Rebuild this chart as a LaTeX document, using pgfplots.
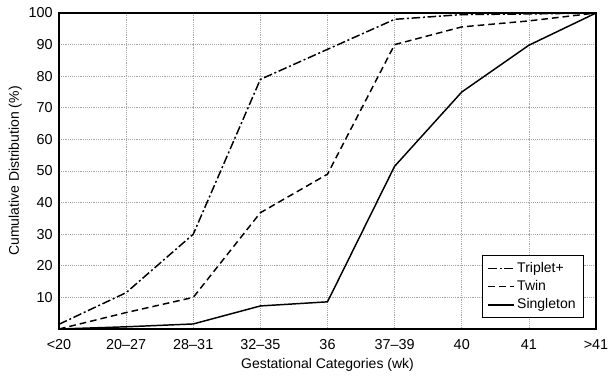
\documentclass[border=0pt]{standalone}
\usepackage{fontspec}
\setmainfont{Liberation Sans}
\usepackage{pgfplots}
\pgfplotsset{compat=1.18}
\begin{document}
\fontsize{10.5}{12.6}\selectfont
\begin{tikzpicture}
\path[use as bounding box] (-44.25pt,-35.25pt) rectangle (417.75pt,246.75pt);
\begin{axis}[
  at={(0,0)}, anchor=south west,
  scale only axis, width=402.75pt, height=237pt,
  xmin=0, xmax=8, ymin=0, ymax=100,
  xtick={0,...,8},
  xticklabels={<20,20--27,28--31,32--35,36,37--39,40,41,>41},
  ytick={10,20,...,100},
  /pgf/number format/assume math mode=true,
  tick label style={font=\fontsize{10.8}{12.6}\selectfont},
  label style={font=\fontsize{10.5}{12.6}\selectfont},
  major tick length=0pt,
  xticklabel style={yshift=-4pt},
  yticklabel style={xshift=-1pt},
  grid=major,
  major grid style={densely dotted, gray!70, line width=0.5pt},
  axis line style={line width=1.5pt},
  xlabel={Gestational Categories (wk)},
  ylabel={Cumulative Distribution (\%)},
  xlabel style={yshift=0.5pt},
  ylabel style={yshift=-2pt},
  legend style={at={(1,0)}, anchor=south east, xshift=-9pt, yshift=8.25pt, draw=black, line width=0.6pt, font=\fontsize{10.5}{12.6}\selectfont, inner xsep=4pt, inner ysep=3pt, row sep=0.5pt},
  legend cell align=left,
  legend image code/.code={\draw[#1] (0pt,0pt) -- (19pt,0pt);},
]
\addplot[black, line width=1.1pt, dash pattern=on 6.5pt off 2pt on 1.5pt off 2pt] coordinates {
 (0,1.5) (1,11.5) (2,30) (3,79) (4,88.5) (5,98) (6,99.5) (7,99.7) (8,100)};
\addlegendentry{Triplet+}
\addplot[black, line width=1.1pt, dash pattern=on 5pt off 3pt] coordinates {
 (0,0) (1,5.2) (2,10) (3,36.8) (4,49) (5,90) (6,95.6) (7,97.5) (8,100)};
\addlegendentry{Twin}
\addplot[black, line width=1.1pt] coordinates {
 (0,0) (1,0.7) (2,1.6) (3,7.3) (4,8.6) (5,51.5) (6,75) (7,89.8) (8,100)};
\addlegendentry{Singleton}
\end{axis}
\end{tikzpicture}
\end{document}
